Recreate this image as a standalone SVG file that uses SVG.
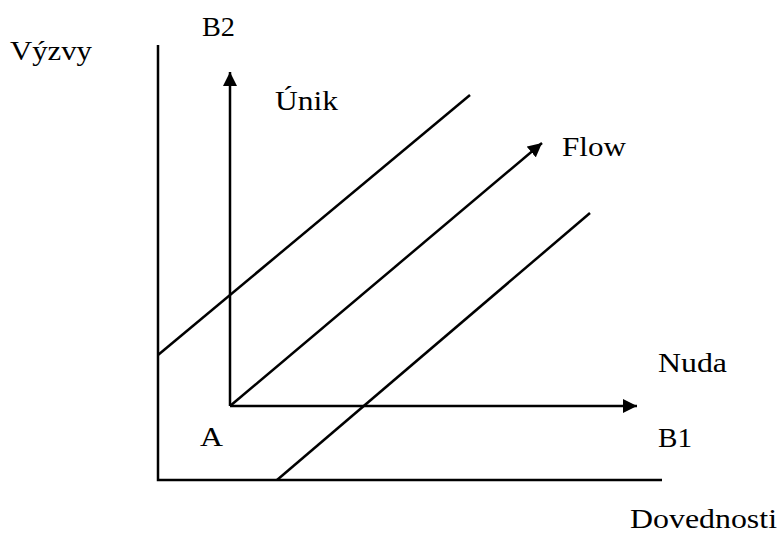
<svg xmlns="http://www.w3.org/2000/svg" width="783" height="544" viewBox="0 0 783 544">
<style>
.l{stroke:#000;stroke-width:2.5;fill:none}
text{font-family:"Liberation Serif","Times New Roman",serif;font-size:28px;fill:#000}
</style>
<defs>
<marker id="ah" viewBox="0 0 14 14" refX="14" refY="7" markerWidth="14" markerHeight="14" markerUnits="userSpaceOnUse" orient="auto">
<path d="M0,0 L14,7 L0,14 Z" fill="#000"/>
</marker>
</defs>
<rect width="783" height="544" fill="#fff"/>
<g id="connectors">
<path class="l" d="M158,45 V480 H662"/>
<path class="l" d="M230,406 V72" marker-end="url(#ah)"/>
<path class="l" d="M230,406 H637" marker-end="url(#ah)"/>
<path class="l" d="M230,406 L542,143" marker-end="url(#ah)"/>
<path class="l" d="M158,355 L470,95"/>
<path class="l" d="M277,480 L590,213"/>
</g>
<g id="labels">
<text id="vyzvy" x="10" y="60" textLength="82" lengthAdjust="spacingAndGlyphs">Výzvy</text>
<text id="b2" x="202" y="36" textLength="33" lengthAdjust="spacingAndGlyphs">B2</text>
<text id="unik" x="275" y="110" textLength="63" lengthAdjust="spacingAndGlyphs">Únik</text>
<text id="flow" x="562" y="156" textLength="64" lengthAdjust="spacingAndGlyphs">Flow</text>
<text id="nuda" x="658" y="372" textLength="69" lengthAdjust="spacingAndGlyphs">Nuda</text>
<text id="a" x="200" y="446" textLength="23" lengthAdjust="spacingAndGlyphs">A</text>
<text id="b1" x="658" y="447" textLength="34" lengthAdjust="spacingAndGlyphs">B1</text>
<text id="dovednosti" x="630" y="528" textLength="147" lengthAdjust="spacingAndGlyphs">Dovednosti</text>
</g>
</svg>
